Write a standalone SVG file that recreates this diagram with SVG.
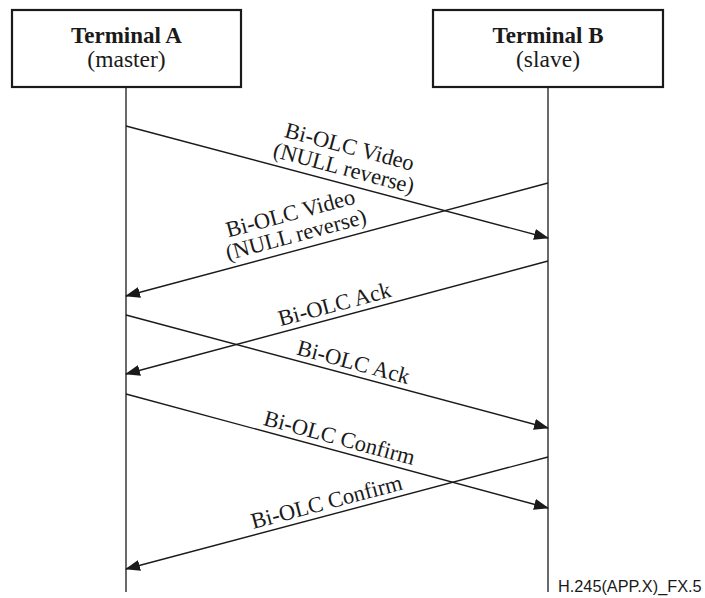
<svg xmlns="http://www.w3.org/2000/svg" width="705" height="598" viewBox="0 0 705 598">
<defs>
<marker id="ah" markerWidth="15" markerHeight="11" refX="14" refY="5.5" orient="auto" markerUnits="userSpaceOnUse">
<path d="M0,0 L15,5.5 L0,11 Z" fill="#1a1a1a"/>
</marker>
<style>
.box{fill:#fff;stroke:#1a1a1a;stroke-width:2.2}
.life{stroke:#1a1a1a;stroke-width:1.3;fill:none}
.msg{stroke:#1a1a1a;stroke-width:1.4;fill:none;marker-end:url(#ah)}
.t{font-family:"Liberation Serif","Times New Roman",serif;fill:#1a1a1a}
.title{font-size:23px;font-weight:bold}
.sub{font-size:23.5px}
.lbl{font-size:22.5px;text-anchor:middle}
.foot{font-family:"Liberation Sans",Arial,sans-serif;font-size:16.3px;fill:#1a1a1a}
</style>
</defs>
<rect width="705" height="598" fill="#fff"/>
<g id="terminalA">
<rect class="box" x="12" y="10" width="229" height="77"/>
<text class="t title" x="126.5" y="43" text-anchor="middle">Terminal A</text>
<text class="t sub" x="126.5" y="67" text-anchor="middle">(master)</text>
</g>
<g id="terminalB">
<rect class="box" x="433" y="10" width="230" height="77"/>
<text class="t title" x="548" y="43" text-anchor="middle">Terminal B</text>
<text class="t sub" x="548" y="67" text-anchor="middle">(slave)</text>
</g>
<g id="connectors">
<line class="life" x1="126" y1="87" x2="126" y2="592"/>
<line class="life" x1="548" y1="87" x2="548" y2="592"/>
<line class="msg" x1="126" y1="126" x2="548" y2="238"/>
<line class="msg" x1="548" y1="183" x2="126" y2="296"/>
<line class="msg" x1="548" y1="261" x2="126" y2="374"/>
<line class="msg" x1="126" y1="315" x2="548" y2="428"/>
<line class="msg" x1="126" y1="394" x2="548" y2="508"/>
<line class="msg" x1="548" y1="457" x2="126" y2="569"/>
</g>
<g id="labels">
<g transform="translate(340,182.8) rotate(14.86)">
<text class="t lbl" x="0" y="-30">Bi-OLC Video</text>
<text class="t lbl" x="0" y="-8">(NULL reverse)</text>
</g>
<g transform="translate(300,249.4) rotate(-14.99)">
<text class="t lbl" x="0" y="-30">Bi-OLC Video</text>
<text class="t lbl" x="0" y="-8">(NULL reverse)</text>
</g>
<g transform="translate(338,317.2) rotate(-15)">
<text class="t lbl" x="0" y="-6">Bi-OLC Ack</text>
</g>
<g transform="translate(350,375) rotate(15)">
<text class="t lbl" x="0" y="-6">Bi-OLC Ack</text>
</g>
<g transform="translate(336,450.7) rotate(15.1)">
<text class="t lbl" x="0" y="-6">Bi-OLC Confirm</text>
</g>
<g transform="translate(330,514.9) rotate(-14.86)">
<text class="t lbl" x="0" y="-6">Bi-OLC Confirm</text>
</g>
</g>
<text class="foot" x="558" y="592">H.245(APP.X)_FX.5</text>
</svg>
